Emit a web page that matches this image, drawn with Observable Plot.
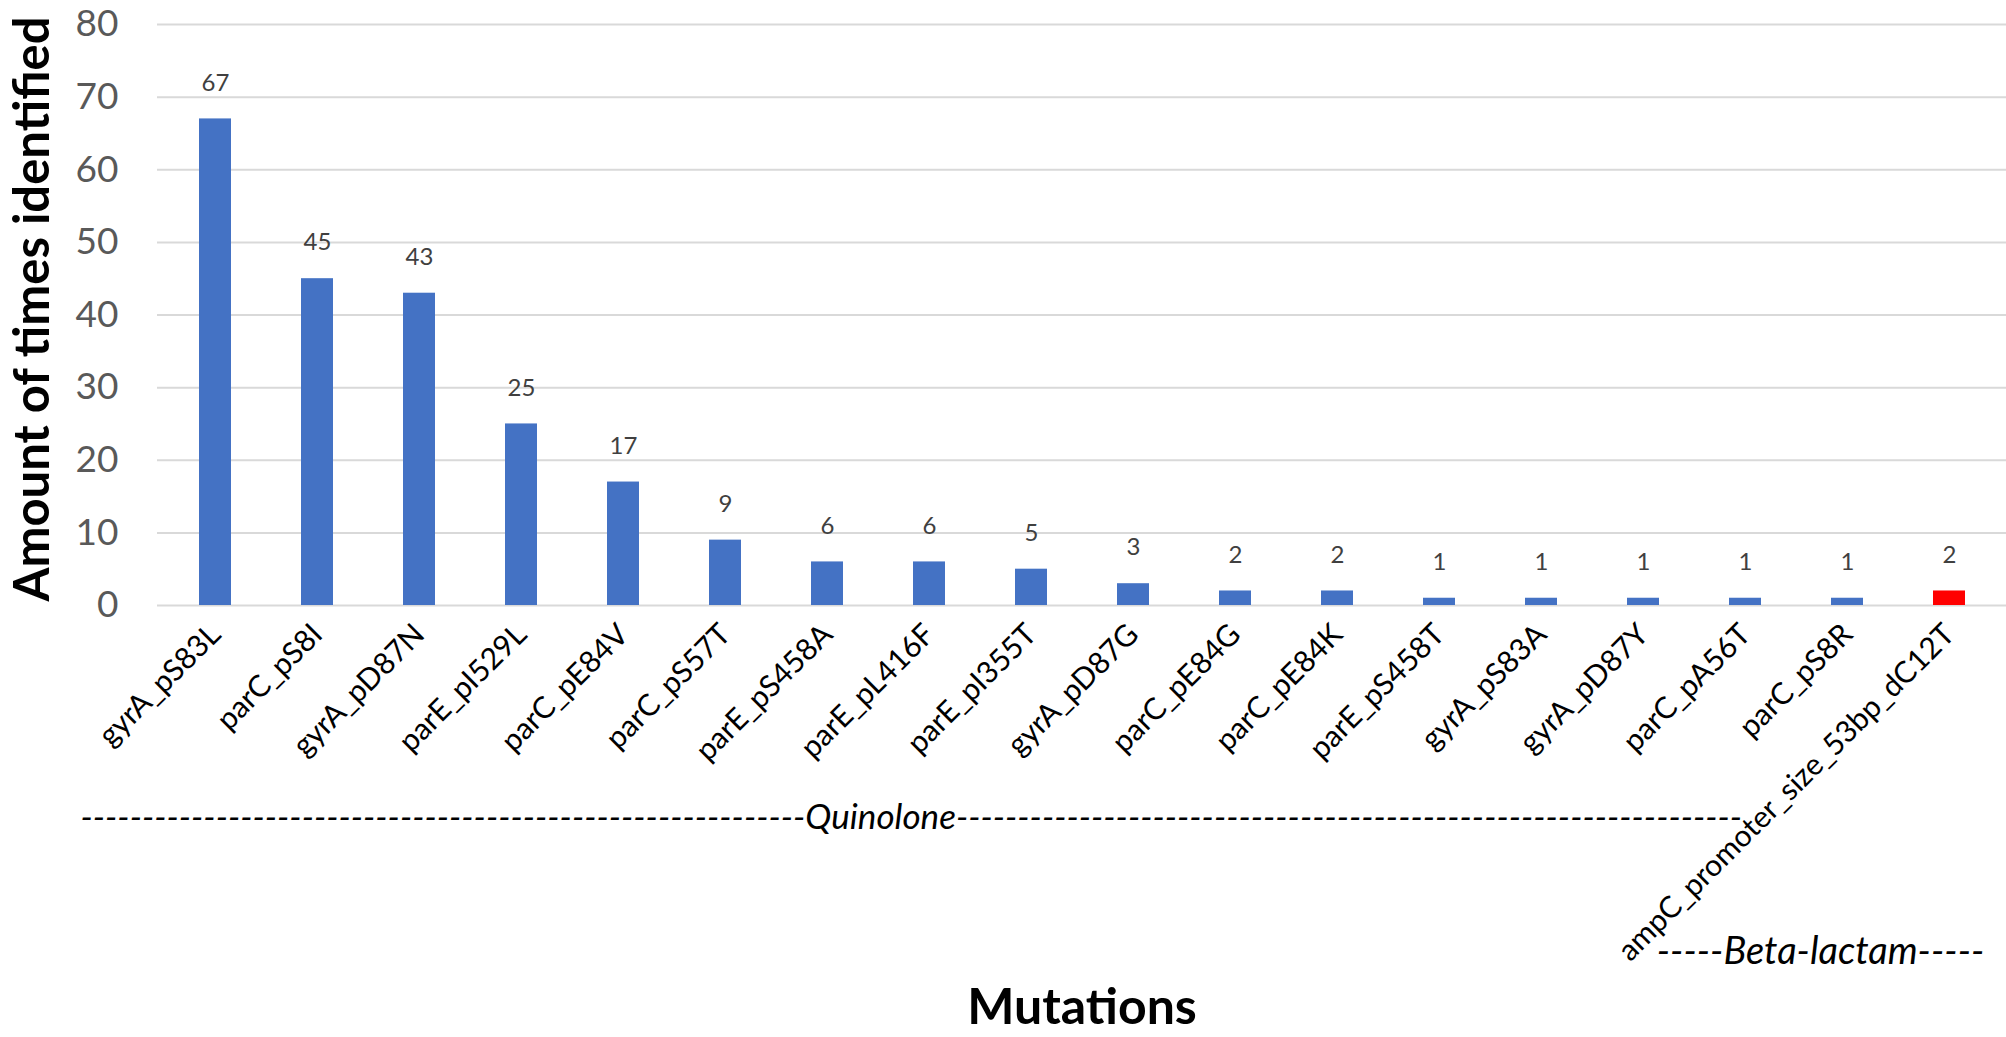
<!DOCTYPE html>
<html><head><meta charset="utf-8">
<script src="https://cdn.jsdelivr.net/npm/d3@7"></script>
<script src="https://cdn.jsdelivr.net/npm/@observablehq/plot@0.6"></script>
<style>html,body{margin:0;padding:0;background:#fff;} svg{display:block}</style>
</head><body><div id="chart"></div>
<script>
const mutations = ["gyrA_pS83L","parC_pS8I","gyrA_pD87N","parE_pI529L","parC_pE84V","parC_pS57T","parE_pS458A","parE_pL416F","parE_pI355T","gyrA_pD87G","parC_pE84G","parC_pE84K","parE_pS458T","gyrA_pS83A","gyrA_pD87Y","parC_pA56T","parC_pS8R","ampC_promoter_size_53bp_dC12T"];
const counts = [67,45,43,25,17,9,6,6,5,3,2,2,1,1,1,1,1,2];
const drugClass = ["Quinolone","Quinolone","Quinolone","Quinolone","Quinolone","Quinolone","Quinolone","Quinolone","Quinolone","Quinolone","Quinolone","Quinolone","Quinolone","Quinolone","Quinolone","Quinolone","Quinolone","Beta-lactam"];
const classNames = ["Quinolone","Beta-lactam"];
const classColors = ["#4472C4","#FF0000"];
const yTicks = [0,10,20,30,40,50,60,70,80];
const quinoloneLabel = "-".repeat(59) + "Quinolone" + "-".repeat(64);
const betaLabel = "-----Beta-lactam-----";

const data = mutations.map((m,i)=>({mutation:m,count:counts[i],cls:drugClass[i]}));
const font = "Lato, 'Open Sans', sans-serif";

const chart = Plot.plot({
  width: 2006, height: 1037,
  marginLeft: 157, marginRight: 0, marginTop: 24, marginBottom: 432,
  style: {fontFamily: font, background: "#fff"},
  x: {domain: mutations, paddingInner: 0.69, paddingOuter: 0.345, label: null},
  y: {domain: [0,80], ticks: yTicks, label: null},
  color: {domain: classNames, range: classColors},
  marks: [
    Plot.gridY(yTicks, {stroke: "#d9d9d9", strokeOpacity: 1, strokeWidth: 2}),
    Plot.barY(data, {x: "mutation", y: "count", fill: "cls"}),
    Plot.text(data, {x: "mutation", y: "count", text: d => String(d.count), dy: -36, fontSize: 24, fill: "#404040"}),
    Plot.axisY(yTicks, {tickSize: 0, tickPadding: 39, fontSize: 37, color: "#595959", label: null}),
    Plot.axisX({tickSize: 0, tickRotate: -45, tickPadding: 24, fontSize: 30, color: "#000", label: null}),
    Plot.text(["Amount of times identified"], {frameAnchor: "left", textAnchor: "middle", rotate: -90, dx: -124, dy: -6, fontSize: 49, fontWeight: "bold", fill: "#000"}),
    Plot.text(["Mutations"], {frameAnchor: "bottom", dy: 418, fontSize: 50, fontWeight: "bold", fill: "#000"}),
    Plot.text([quinoloneLabel], {frameAnchor: "bottom-left", textAnchor: "start", dx: -77, dy: 223, fontSize: 35, fontStyle: "italic", fill: "#000"}),
    Plot.text([betaLabel], {frameAnchor: "bottom-right", textAnchor: "middle", dx: -186, dy: 358, fontSize: 38, fontStyle: "italic", fill: "#000"})
  ]
});
document.getElementById("chart").appendChild(chart);
</script>
</body></html>
